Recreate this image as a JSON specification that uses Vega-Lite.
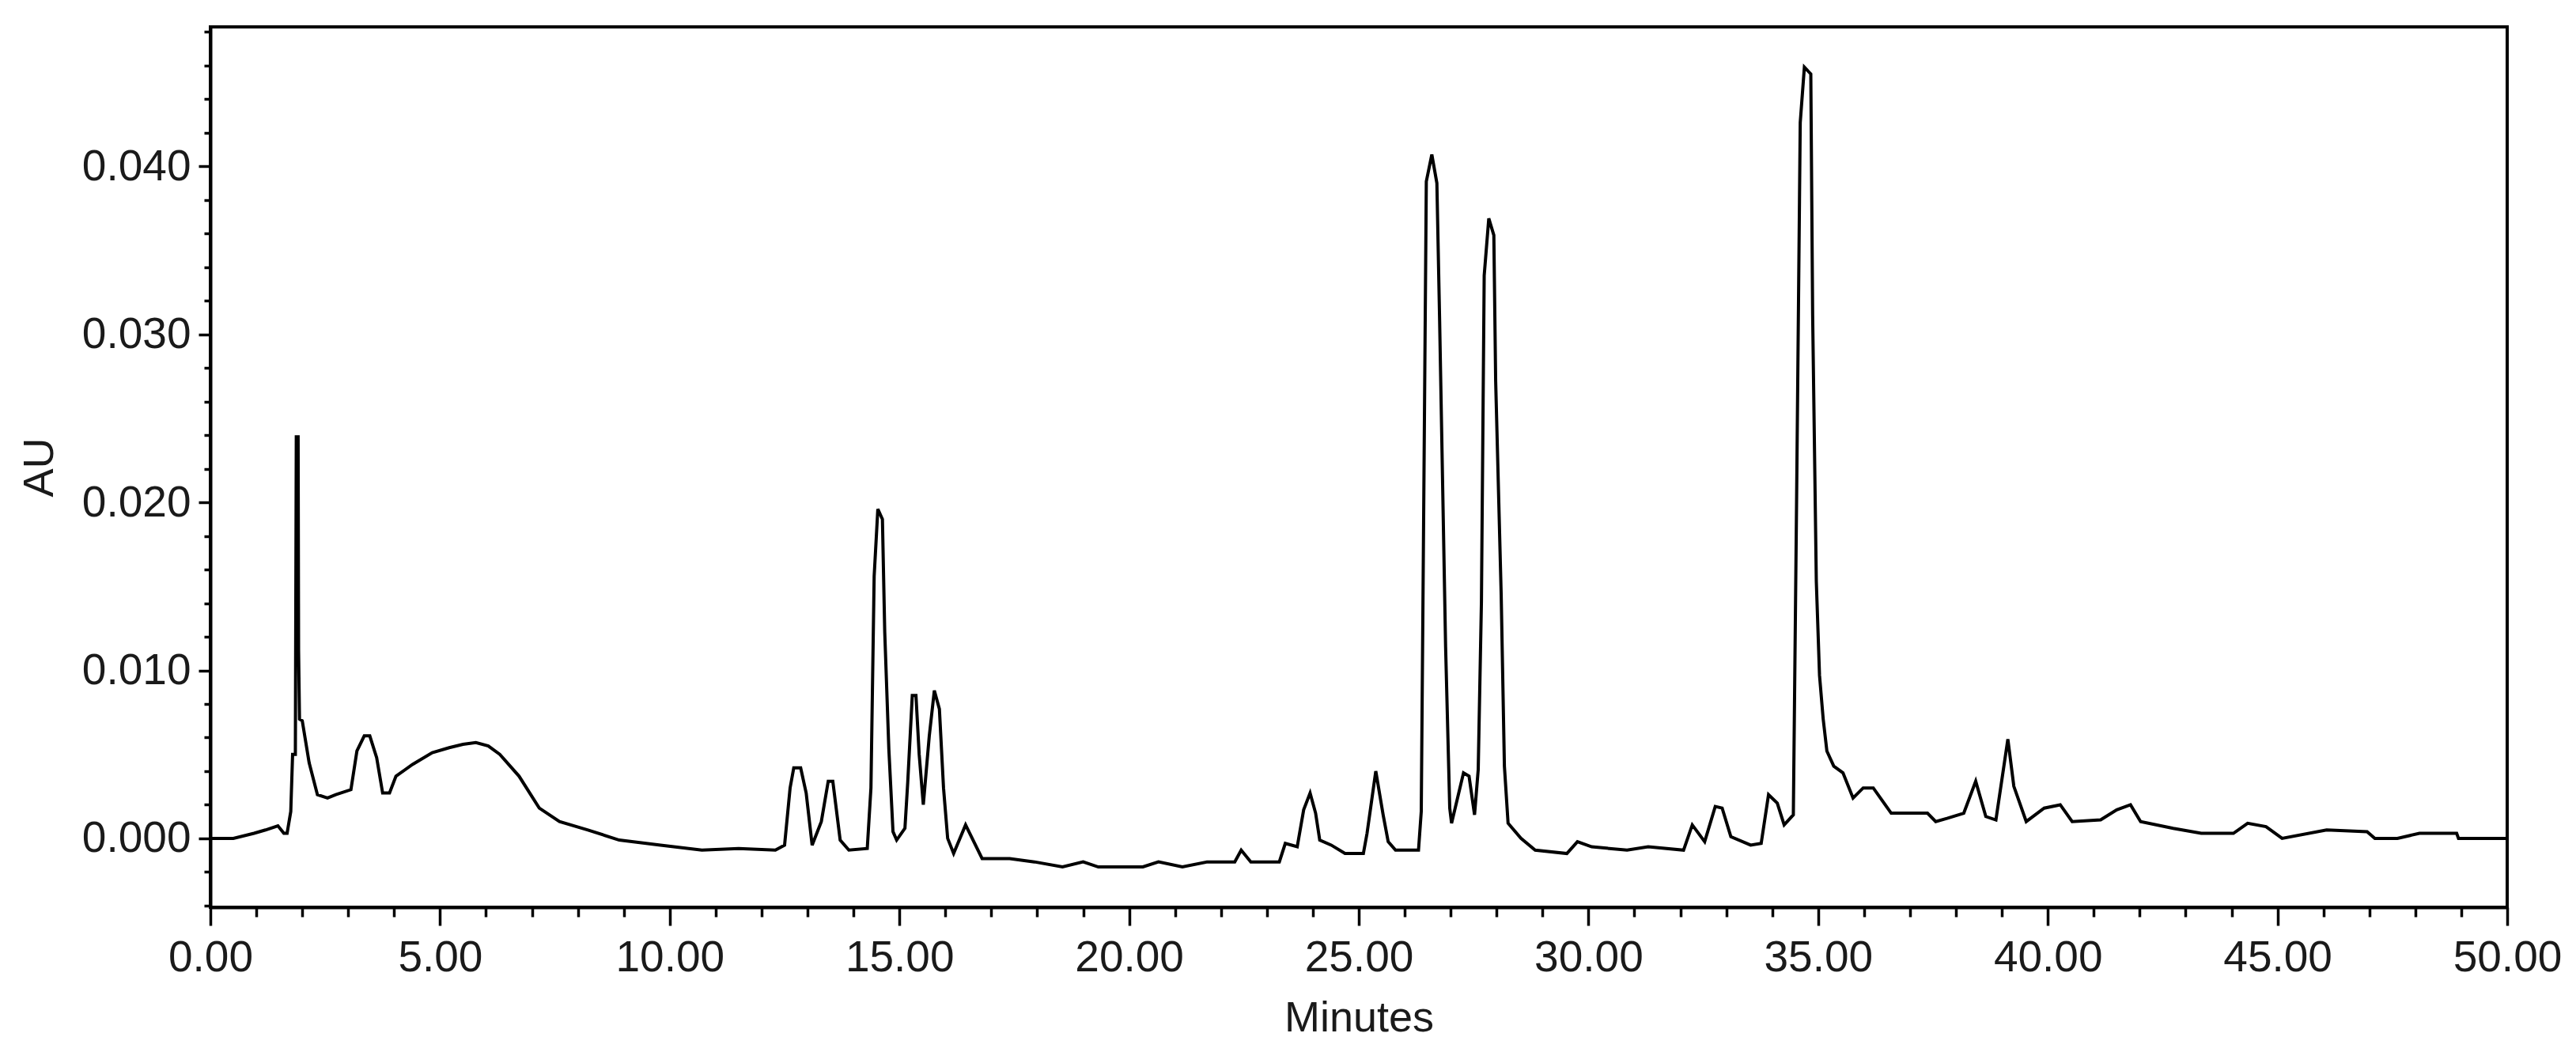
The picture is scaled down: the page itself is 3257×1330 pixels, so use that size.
{
  "$schema": "https://vega.github.io/schema/vega-lite/v6.json",
  "width": 2904,
  "height": 1113,
  "autosize": {"type": "none"},
  "padding": {"left": 266, "top": 34, "right": 87, "bottom": 183},
  "background": "white",
  "config": {
    "view": {"stroke": "black", "strokeWidth": 4},
    "font": "Liberation Sans"
  },
  "data": {
    "values": [
      {"t": 0, "v": 0}, {"t": 0.5, "v": 0}, {"t": 0.95, "v": 0.0003}, {"t": 1.2, "v": 0.0005}, {"t": 1.47, "v": 0.00075},
      {"t": 1.6, "v": 0.0003}, {"t": 1.67, "v": 0.0003}, {"t": 1.75, "v": 0.0016}, {"t": 1.79, "v": 0.005}, {"t": 1.85, "v": 0.005},
      {"t": 1.87, "v": 0.0239}, {"t": 1.91, "v": 0.0239}, {"t": 1.92, "v": 0.0112}, {"t": 1.94, "v": 0.0071}, {"t": 2.0, "v": 0.007},
      {"t": 2.15, "v": 0.0045}, {"t": 2.33, "v": 0.0026}, {"t": 2.55, "v": 0.0024}, {"t": 2.73, "v": 0.0026}, {"t": 3.06, "v": 0.0029},
      {"t": 3.19, "v": 0.0052}, {"t": 3.35, "v": 0.0061}, {"t": 3.47, "v": 0.0061}, {"t": 3.62, "v": 0.0048}, {"t": 3.75, "v": 0.0027},
      {"t": 3.9, "v": 0.0027}, {"t": 4.04, "v": 0.0037}, {"t": 4.4, "v": 0.0044}, {"t": 4.83, "v": 0.0051}, {"t": 5.2, "v": 0.0054},
      {"t": 5.5, "v": 0.0056}, {"t": 5.78, "v": 0.0057}, {"t": 6.05, "v": 0.0055}, {"t": 6.3, "v": 0.005}, {"t": 6.72, "v": 0.0037},
      {"t": 7.16, "v": 0.0018}, {"t": 7.6, "v": 0.001}, {"t": 8.22, "v": 0.0005}, {"t": 8.9, "v": -0.0001}, {"t": 9.8, "v": -0.0004},
      {"t": 10.7, "v": -0.0007}, {"t": 11.5, "v": -0.0006}, {"t": 12.3, "v": -0.0007}, {"t": 12.5, "v": -0.0004}, {"t": 12.62, "v": 0.003},
      {"t": 12.7, "v": 0.0042}, {"t": 12.85, "v": 0.0042}, {"t": 12.97, "v": 0.0027}, {"t": 13.1, "v": -0.0004}, {"t": 13.3, "v": 0.001},
      {"t": 13.45, "v": 0.0034}, {"t": 13.55, "v": 0.0034}, {"t": 13.71, "v": -0.0001}, {"t": 13.9, "v": -0.0007}, {"t": 14.3, "v": -0.0006},
      {"t": 14.38, "v": 0.003}, {"t": 14.45, "v": 0.0156}, {"t": 14.53, "v": 0.0196}, {"t": 14.63, "v": 0.019}, {"t": 14.68, "v": 0.0123},
      {"t": 14.77, "v": 0.0053}, {"t": 14.86, "v": 0.0004}, {"t": 14.94, "v": -0.0001}, {"t": 15.12, "v": 0.0006}, {"t": 15.18, "v": 0.0033},
      {"t": 15.28, "v": 0.0085}, {"t": 15.36, "v": 0.0085}, {"t": 15.43, "v": 0.005}, {"t": 15.52, "v": 0.002}, {"t": 15.65, "v": 0.0061},
      {"t": 15.76, "v": 0.0088}, {"t": 15.87, "v": 0.0077}, {"t": 15.96, "v": 0.003}, {"t": 16.05, "v": 0.0}, {"t": 16.18, "v": -0.0009},
      {"t": 16.44, "v": 0.0008}, {"t": 16.8, "v": -0.0012}, {"t": 17.4, "v": -0.0012}, {"t": 17.94, "v": -0.0014}, {"t": 18.55, "v": -0.0017},
      {"t": 19.0, "v": -0.0014}, {"t": 19.33, "v": -0.0017}, {"t": 20.3, "v": -0.0017}, {"t": 20.64, "v": -0.0014}, {"t": 21.16, "v": -0.0017},
      {"t": 21.7, "v": -0.0014}, {"t": 22.3, "v": -0.0014}, {"t": 22.44, "v": -0.0007}, {"t": 22.65, "v": -0.0014}, {"t": 23.27, "v": -0.0014},
      {"t": 23.4, "v": -0.0003}, {"t": 23.66, "v": -0.0005}, {"t": 23.8, "v": 0.0017}, {"t": 23.94, "v": 0.0027}, {"t": 24.06, "v": 0.0015},
      {"t": 24.15, "v": -0.0001}, {"t": 24.4, "v": -0.0004}, {"t": 24.7, "v": -0.0009}, {"t": 25.1, "v": -0.0009}, {"t": 25.18, "v": 0.0003},
      {"t": 25.37, "v": 0.004}, {"t": 25.53, "v": 0.0014}, {"t": 25.64, "v": -0.0002}, {"t": 25.8, "v": -0.0007}, {"t": 26.3, "v": -0.0007},
      {"t": 26.36, "v": 0.0016}, {"t": 26.4, "v": 0.015}, {"t": 26.47, "v": 0.0391}, {"t": 26.59, "v": 0.0407}, {"t": 26.7, "v": 0.039},
      {"t": 26.76, "v": 0.0308}, {"t": 26.89, "v": 0.0114}, {"t": 26.98, "v": 0.0018}, {"t": 27.02, "v": 0.0009}, {"t": 27.28, "v": 0.0039},
      {"t": 27.4, "v": 0.0037}, {"t": 27.52, "v": 0.0014}, {"t": 27.6, "v": 0.0041}, {"t": 27.67, "v": 0.0141}, {"t": 27.73, "v": 0.0335},
      {"t": 27.83, "v": 0.0369}, {"t": 27.94, "v": 0.0359}, {"t": 27.98, "v": 0.0272}, {"t": 28.1, "v": 0.0145}, {"t": 28.17, "v": 0.0043},
      {"t": 28.25, "v": 0.0009}, {"t": 28.53, "v": 0.0}, {"t": 28.84, "v": -0.0007}, {"t": 29.53, "v": -0.0009}, {"t": 29.76, "v": -0.0002},
      {"t": 30.07, "v": -0.0005}, {"t": 30.84, "v": -0.0007}, {"t": 31.3, "v": -0.0005}, {"t": 32.07, "v": -0.0007}, {"t": 32.26, "v": 0.0008},
      {"t": 32.53, "v": -0.0002}, {"t": 32.76, "v": 0.0019}, {"t": 32.91, "v": 0.0018}, {"t": 33.1, "v": 0.0001}, {"t": 33.53, "v": -0.0004},
      {"t": 33.76, "v": -0.0003}, {"t": 33.92, "v": 0.0026}, {"t": 34.11, "v": 0.0021}, {"t": 34.26, "v": 0.0008}, {"t": 34.46, "v": 0.0014},
      {"t": 34.53, "v": 0.0199}, {"t": 34.61, "v": 0.0426}, {"t": 34.7, "v": 0.0459}, {"t": 34.84, "v": 0.0455}, {"t": 34.88, "v": 0.0312},
      {"t": 34.96, "v": 0.0153}, {"t": 35.03, "v": 0.0097}, {"t": 35.11, "v": 0.0071}, {"t": 35.19, "v": 0.0052}, {"t": 35.34, "v": 0.0043},
      {"t": 35.54, "v": 0.0039}, {"t": 35.76, "v": 0.0024}, {"t": 35.98, "v": 0.003}, {"t": 36.2, "v": 0.003}, {"t": 36.59, "v": 0.0015},
      {"t": 37.38, "v": 0.0015}, {"t": 37.56, "v": 0.001}, {"t": 37.82, "v": 0.0012}, {"t": 38.17, "v": 0.0015}, {"t": 38.43, "v": 0.0034},
      {"t": 38.65, "v": 0.0013}, {"t": 38.87, "v": 0.0011}, {"t": 39.13, "v": 0.0059}, {"t": 39.26, "v": 0.0031}, {"t": 39.53, "v": 0.001},
      {"t": 39.92, "v": 0.0018}, {"t": 40.27, "v": 0.002}, {"t": 40.53, "v": 0.001}, {"t": 41.15, "v": 0.0011}, {"t": 41.5, "v": 0.0017},
      {"t": 41.8, "v": 0.002}, {"t": 42.02, "v": 0.001}, {"t": 42.73, "v": 0.0006}, {"t": 43.34, "v": 0.0003}, {"t": 44.04, "v": 0.0003},
      {"t": 44.35, "v": 0.0009}, {"t": 44.75, "v": 0.0007}, {"t": 45.1, "v": 0.0}, {"t": 46.07, "v": 0.0005}, {"t": 46.95, "v": 0.0004},
      {"t": 47.12, "v": 0.0}, {"t": 47.61, "v": 0.0}, {"t": 48.09, "v": 0.0003}, {"t": 48.9, "v": 0.0003}, {"t": 48.94, "v": 0.0},
      {"t": 50, "v": 0.0}
    ]
  },
  "mark": {"type": "line", "color": "black", "strokeWidth": 4, "clip": true, "interpolate": "linear"},
  "encoding": {
    "x": {
      "field": "t",
      "type": "quantitative",
      "scale": {"domain": [0, 50], "nice": false, "zero": false},
      "axis": {
        "title": "Minutes",
        "values": [0,1,2,3,4,5,6,7,8,9,10,11,12,13,14,15,16,17,18,19,20,21,22,23,24,25,26,27,28,29,30,31,32,33,34,35,36,37,38,39,40,41,42,43,44,45,46,47,48,49,50],
        "labelExpr": "datum.value % 5 === 0 ? format(datum.value, '.2f') : ''",
        "tickSize": {"condition": {"test": "datum.value % 5 === 0", "value": 23}, "value": 12},
        "tickColor": "black",
        "tickWidth": 3.5,
        "domainColor": "black",
        "domainWidth": 4,
        "grid": false,
        "labelFontSize": 55,
        "labelColor": "#1a1a1a",
        "labelPadding": 14,
        "labelFlush": false,
        "labelOverlap": false,
        "labelBound": false,
        "titleFontSize": 54,
        "titleFontWeight": "normal",
        "titleColor": "#1a1a1a",
        "titlePadding": 22
      }
    },
    "y": {
      "field": "v",
      "type": "quantitative",
      "scale": {"domain": [-0.0041, 0.0483], "nice": false, "zero": false},
      "axis": {
        "title": "AU",
        "values": [-0.004,-0.002,0,0.002,0.004,0.006,0.008,0.01,0.012,0.014,0.016,0.018,0.02,0.022,0.024,0.026,0.028,0.03,0.032,0.034,0.036,0.038,0.04,0.042,0.044,0.046,0.048],
        "labelExpr": "abs(round(datum.value*1000)) % 10 === 0 ? format(datum.value, '.3f') : ''",
        "tickSize": {"condition": {"test": "abs(round(datum.value*1000)) % 10 === 0", "value": 15}, "value": 8},
        "tickColor": "black",
        "tickWidth": 3.5,
        "domainColor": "black",
        "domainWidth": 4,
        "grid": false,
        "labelFontSize": 55,
        "labelColor": "#1a1a1a",
        "labelPadding": 10,
        "labelFlush": false,
        "labelOverlap": false,
        "labelBound": false,
        "titleFontSize": 54,
        "titleFontWeight": "normal",
        "titleColor": "#1a1a1a",
        "titlePadding": 26
      }
    }
  }
}
